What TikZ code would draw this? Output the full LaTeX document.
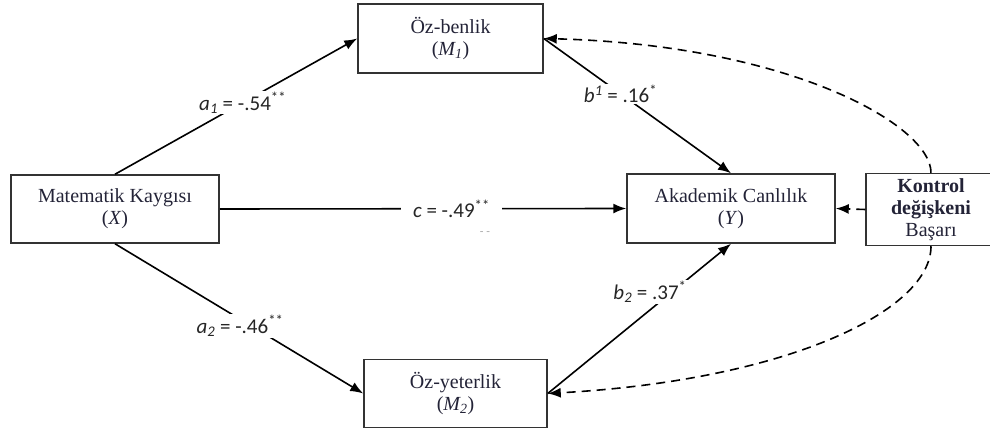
\documentclass[tikz,border=0pt]{standalone}
\usepackage{fontspec}
\setmainfont{Liberation Serif}
\newfontfamily\boxfont{Liberation Serif}
\newfontfamily\lblfont{Carlito}
\usetikzlibrary{arrows.meta}
\definecolor{txt}{RGB}{35,35,55}
\begin{document}
\begin{tikzpicture}[x=1pt,y=-1pt,
  box/.style={draw=black!80,line width=1.5pt,align=center,inner sep=0pt,text=txt,
    font=\boxfont\fontsize{20}{22}\selectfont},
  arr/.style={line width=1.6pt,-{Latex[length=13pt,width=10pt]}},
  dsh/.style={arr,dash pattern=on 9pt off 6pt},
  lbl/.style={fill=white,inner sep=3pt,text=black!85,
    font=\lblfont\fontsize{21}{23}\selectfont}
]
\useasboundingbox (0,0) rectangle (990,430);

\node[box,minimum width=185pt,minimum height=69pt] (M1) at (450.5,38.5)
  {Öz-benlik\\(\textit{M\textsubscript{1}})};
\node[box,minimum width=208pt,minimum height=68pt] (X) at (115,209)
  {Matematik Kaygısı\\(\textit{X})};
\node[box,minimum width=208pt,minimum height=69pt] (Y) at (731,208.5)
  {Akademik Canlılık\\(\textit{Y})};
\node[box,minimum width=130pt,minimum height=72pt] (C) at (931,209.5)
  {\textbf{Kontrol}\\\textbf{değişkeni}\\Başarı};
\node[box,minimum width=183pt,minimum height=68pt] (M2) at (455.5,393.5)
  {Öz-yeterlik\\(\textit{M\textsubscript{2}})};

\draw[arr] (X.north) -- node[lbl,pos=0.527,inner sep=1pt]
  {\textit{a}\textsubscript{\textit{1}} = -.54\textsuperscript{**}} (M1.west);
\draw[arr] (X.east) -- node[lbl,pos=0.57,inner xsep=12pt]
  {\textit{c} = -.49\textsuperscript{**}} (Y.west);
\draw[arr] (M1.east) -- node[lbl,pos=0.41,inner sep=1pt]
  {\textit{b}\textsuperscript{\textit{1}} = .16\textsuperscript{*}} (Y.north);
\draw[arr] (X.south) -- (M2.west);
\node[lbl,inner sep=1pt] (la2) at (240,326) {\textit{a}\textsubscript{\textit{2}} = -.46\textsuperscript{**}};
\draw[arr] (M2.east) -- (Y.south);
\node[lbl,inner sep=1pt] (lb2) at (650,292) {\textit{b}\textsubscript{\textit{2}} = .37\textsuperscript{*}};
\node[text=black!35,font=\lblfont\fontsize{12}{12}\selectfont] (st) at (485,234) {- -};

\draw[dsh] (C.west) -- (Y.east);
\draw[dsh] (C.north) .. controls (931,125) and (790,45) .. (M1.east);
\draw[dsh] (C.south) .. controls (931,310) and (790,380) .. (M2.east);
\end{tikzpicture}
\end{document}
